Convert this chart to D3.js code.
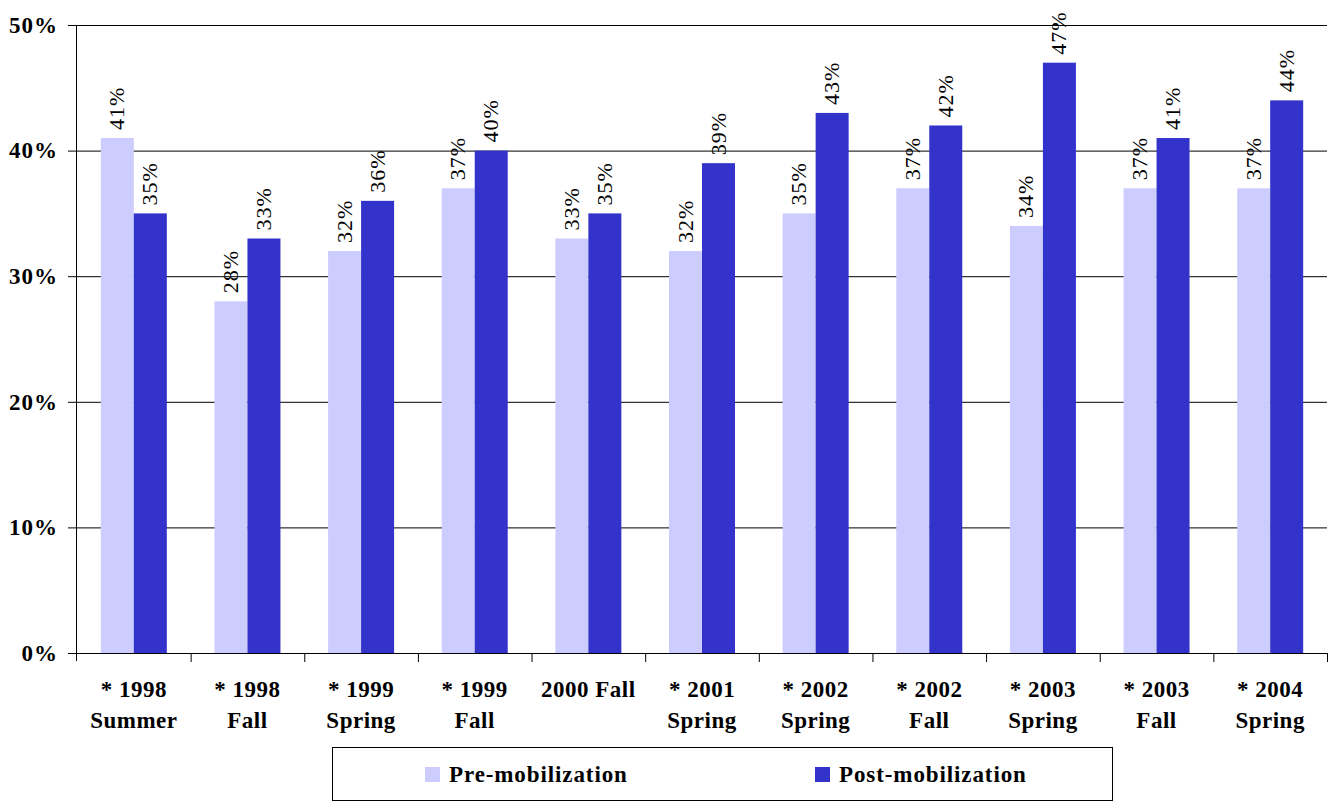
<!DOCTYPE html>
<html><head><meta charset="utf-8">
<script src="https://cdn.jsdelivr.net/npm/d3@7"></script>
<style>body{margin:0;background:#fff} svg text{font-family:'Liberation Serif';}</style>
</head><body>
<svg id="c" width="1329" height="802"></svg>
<script>
const categories = [["* 1998","Summer"],["* 1998","Fall"],["* 1999","Spring"],["* 1999","Fall"],["2000 Fall",""],["* 2001","Spring"],["* 2002","Spring"],["* 2002","Fall"],["* 2003","Spring"],["* 2003","Fall"],["* 2004","Spring"]];
const preValues = [41,28,32,37,33,32,35,37,34,37,37];
const postValues = [35,33,36,40,35,39,43,42,47,41,44];
const seriesNames = ["Pre-mobilization","Post-mobilization"];
const yTicks = [0,10,20,30,40,50];

const colors = ["#CCCCFF","#3333CC"];
const svg = d3.select("#c");
const L = 77, R = 1327, T = 25, B = 653;
const fam = "'Liberation Serif'";
const idx = d3.range(categories.length);
const x = d3.scaleBand().domain(idx).range([L, R]);
const y = d3.scaleLinear().domain([0, 50]).range([B, T]);
const bw = 33;

// gridlines
svg.append("g").selectAll("line").data(yTicks.filter(d=>d>0)).join("line")
  .attr("x1", L).attr("x2", R).attr("y1", d=>y(d)+0.5).attr("y2", d=>y(d)+0.5)
  .attr("stroke", "#000").attr("stroke-width", 1);

// bars
const series = [preValues, postValues];
series.forEach((vals, si) => {
  svg.append("g").selectAll("rect").data(vals).join("rect")
    .attr("x", (d,i) => x(i) + x.bandwidth()/2 - bw + si*bw)
    .attr("width", bw)
    .attr("y", d => y(d))
    .attr("height", d => B - y(d))
    .attr("fill", colors[si]);
  svg.append("g").selectAll("text").data(vals).join("text")
    .attr("transform", (d,i) => `translate(${x(i) + x.bandwidth()/2 - bw/2 + si*bw + 7},${y(d) - 8}) rotate(-90)`)
    .style("font-family", fam).attr("font-size", 22)
    .attr("letter-spacing", 1)
    .attr("text-anchor", "start")
    .text(d => d + "%");
});

// y axis
const yAxis = d3.axisLeft(y).tickValues(yTicks).tickFormat(d => d + "%").tickSize(9).tickPadding(10);
const ya = svg.append("g").attr("transform", `translate(${L},0)`).call(yAxis);
ya.attr("font-family", null);
ya.select(".domain").attr("stroke", "#000").attr("d", `M-0.5,${T}V${B+8}`);
ya.selectAll("text").style("font-family", fam).attr("font-size", 23).attr("font-weight", "bold")
  .attr("letter-spacing", 1).attr("fill", "#000");

// x axis
const xb = d3.scaleLinear().domain([0, categories.length]).range([L, R]);
const xa = svg.append("g").attr("transform", `translate(0,${B})`).call(
  d3.axisBottom(xb).tickValues(d3.range(1, categories.length+1)).tickFormat("").tickSize(9));
xa.select(".domain").attr("d", `M${L},0.5H${R}`).attr("stroke", "#000");
const lbl = svg.append("g").selectAll("text").data(categories).join("text")
  .style("font-family", fam).attr("font-size", 23).attr("font-weight", "bold")
  .attr("letter-spacing", 0.5).attr("text-anchor", "middle");
lbl.append("tspan").attr("x", (d,i)=>x(i)+x.bandwidth()/2).attr("y", 697).text(d=>d[0]);
lbl.append("tspan").attr("x", (d,i)=>x(i)+x.bandwidth()/2).attr("y", 728).text(d=>d[1]);

// legend
const lg = svg.append("g");
lg.append("rect").attr("x", 332.5).attr("y", 747.5).attr("width", 780).attr("height", 53)
  .attr("fill", "#fff").attr("stroke", "#000");
const lx = [425, 815];
seriesNames.forEach((n, i) => {
  lg.append("rect").attr("x", lx[i]).attr("y", 767).attr("width", 15).attr("height", 15).attr("fill", colors[i]);
  lg.append("text").attr("x", lx[i] + 24).attr("y", 782).style("font-family", fam).attr("font-size", 23)
    .attr("font-weight", "bold").attr("letter-spacing", 0.9).text(n);
});
</script>
</body></html>
